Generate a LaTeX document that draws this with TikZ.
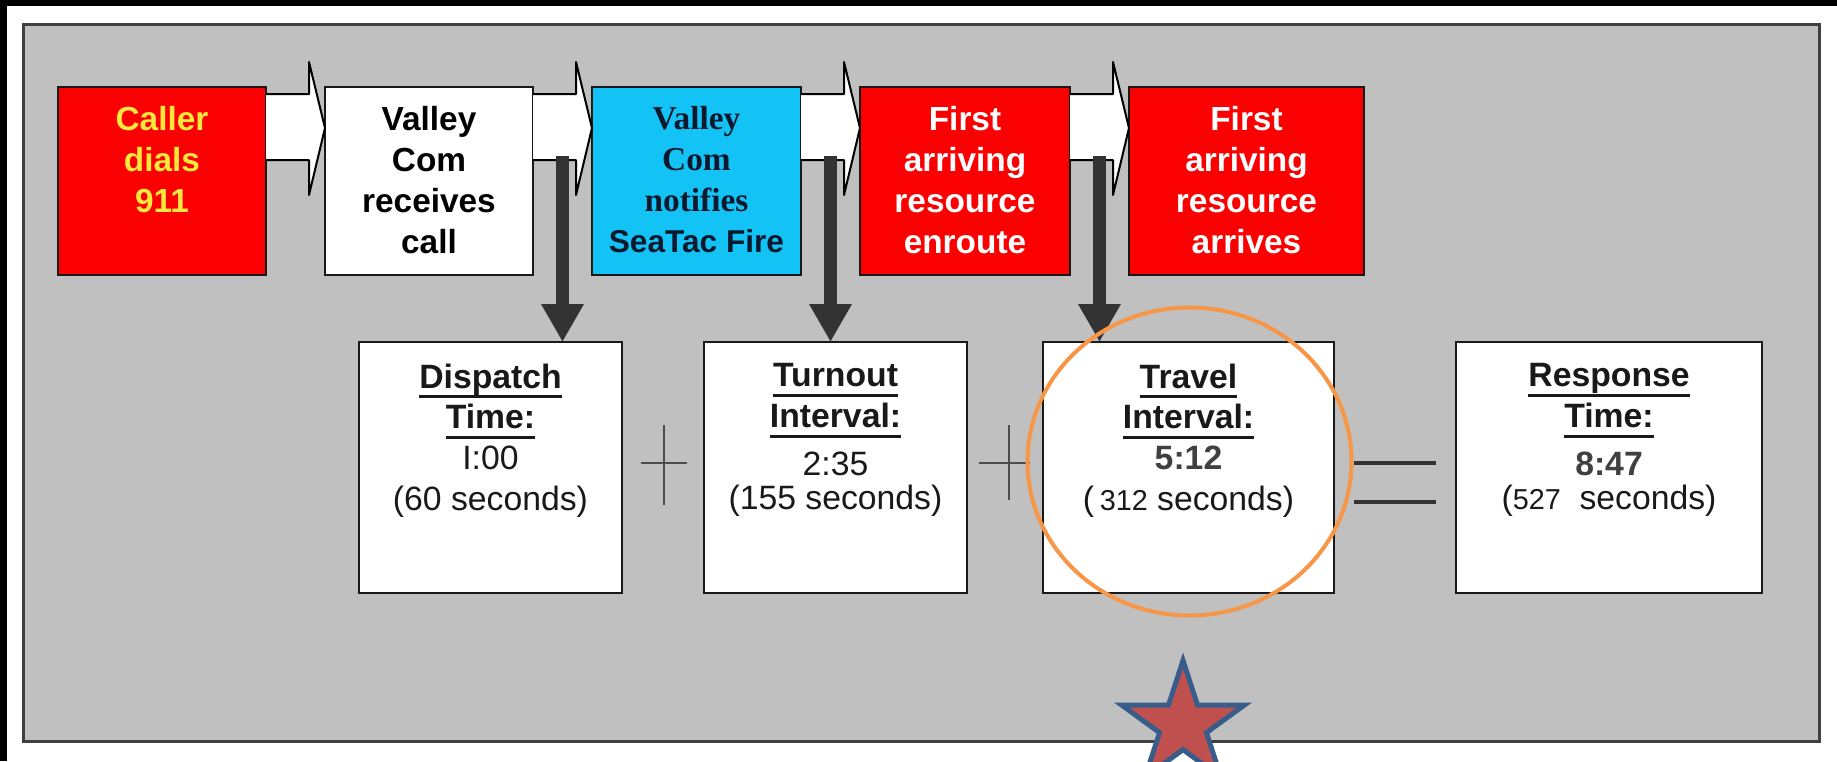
\documentclass[tikz,border=0pt]{standalone}
\usepackage{fontspec}
\setmainfont{Liberation Sans}
\newfontfamily\timesfont{Liberation Serif}
\usetikzlibrary{positioning, calc, arrows.meta, shapes.geometric}

\definecolor{panelgray}{RGB}{192,192,192}
\definecolor{alarmred}{RGB}{250,0,0}
\definecolor{notifyblue}{RGB}{20,195,245}
\definecolor{dialyellow}{RGB}{255,232,60}
\definecolor{navytext}{RGB}{10,25,45}
\definecolor{ringorange}{RGB}{247,150,70}
\definecolor{starred}{RGB}{192,80,77}
\definecolor{starblue}{RGB}{56,93,138}

% underlined bold heading
\newcommand{\hdr}[1]{\setbox0\hbox{\bfseries #1}\rlap{\rule[-2.8pt]{\wd0}{0.75pt}}\box0}

\begin{document}
\begin{tikzpicture}[
    x=0.1mm, y=-0.1mm,
    node distance=5.9mm,
    stagebox/.style={draw=black!90, line width=0.27mm, minimum width=20.8mm,
                     minimum height=18.8mm, outer sep=0pt, inner sep=0pt},
    stagetext/.style={anchor=north, yshift=-1.9mm, inner sep=0pt, align=center,
                      font=\bfseries\fontsize{9.5}{11.6}\selectfont},
    timebox/.style={draw=black!90, fill=white, line width=0.27mm,
                    minimum height=25.1mm, outer sep=0pt, inner sep=0pt},
    timetext/.style={anchor=north, yshift=-2.1mm, inner sep=0pt, align=center,
                     text=black!90, font=\fontsize{9.6}{11.6}\selectfont},
    flow/.style={draw=black, line width=0.2mm, fill=white, line join=round},
    drop/.style={draw=black!80, line width=1.3mm, -{Triangle[width=4mm,length=3.8mm]}},
    sign/.style={draw=black!70, line width=0.16mm},
    ring/.style={draw=ringorange, line width=0.4mm}
]
\useasboundingbox (0,0) rectangle (1837,761);
\fill[black] (0,0) rectangle (1837,6);
\fill[black] (0,0) rectangle (7,761);
\draw[draw=black!75, line width=0.3mm, fill=panelgray] (23,24) rectangle (1819,741);

% stages
\node[stagebox, fill=alarmred, anchor=north west,
      label={[stagetext, text=dialyellow]north:{Caller\\dials\\911}}] (caller) at (58,87) {};
\node[stagebox, fill=white, right=of caller,
      label={[stagetext]north:{Valley\\Com\\receives\\call}}] (call) {};
\node[stagebox, fill=notifyblue, right=of call, minimum width=20.9mm,
      label={[stagetext, text=navytext]north:{{\timesfont Valley}\\{\timesfont Com}\\{\timesfont notifies}\\{\fontsize{9}{11.6}\selectfont SeaTac Fire}}}] (notify) {};
\node[stagebox, fill=alarmred, right=of notify, minimum width=21mm,
      label={[stagetext, text=white]north:{First\\arriving\\resource\\enroute}}] (enroute) {};
\node[stagebox, fill=alarmred, right=of enroute, minimum width=23.5mm,
      label={[stagetext, text=white]north:{First\\arriving\\resource\\arrives}}] (arrive) {};

\foreach \a/\b in {caller/call, call/notify, notify/enroute, enroute/arrive}
  \filldraw[flow] ($(\a.north east)+(0,7)$) -- ($(\b.north west)+(-16,7)$)
    -- ($(\b.north west)+(-16,-25)$) -- ($(\b.north west)+(0,41)$)
    -- ($(\b.north west)+(-16,108)$) -- ($(\b.north west)+(-16,73)$)
    -- ($(\a.north east)+(0,73)$);

% intervals
\node[timebox, minimum width=26.3mm, anchor=north west,
      label={[timetext]north:{\hdr{Dispatch}\\\hdr{Time:}\\I:00\\(60 seconds)}}] (dispatch) at (359,342) {};
\node[timebox, minimum width=26.3mm, anchor=north west,
      label={[timetext]north:{\hdr{Turnout}\\\hdr{Interval:}\\[0.7mm]2:35\\[-0.7mm](155 seconds)}}] (turnout) at (704,342) {};
\node[timebox, minimum width=29.1mm, anchor=north west,
      label={[timetext]north:{\hdr{Travel}\\\hdr{Interval:}\\{\bfseries\color{black!75}5:12}\\(\,{\fontsize{8.2}{11.6}\selectfont 312} seconds)}}] (travel) at (1043,342) {};
\node[timebox, minimum width=30.6mm, anchor=north west,
      label={[timetext]north:{\hdr{Response}\\\hdr{Time:}\\[0.7mm]{\bfseries\color{black!75}8:47}\\[-0.7mm]({\fontsize{8.2}{11.6}\selectfont 527}\ \ seconds)}}] (response) at (1456,342) {};

\coordinate (tap1) at ($(call.north east)!0.5!(notify.north west)+(0,69)$);
\coordinate (tap2) at ($(notify.north east)!0.5!(enroute.north west)+(0,69)$);
\coordinate (tap3) at ($(enroute.north east)!0.5!(arrive.north west)+(0,69)$);
\draw[drop] (tap1) -- (tap1 |- dispatch.north);
\draw[drop] (tap2) -- (tap2 |- turnout.north);
\draw[drop] (tap3) -- (tap3 |- travel.north);

% signs
\coordinate (plus1) at ($(dispatch.north east)!0.5!(turnout.north west)+(1,121)$);
\coordinate (plus2) at ($(turnout.north east)!0.5!(travel.north west)+(4,121)$);
\coordinate (equal) at ($(travel.north east)!0.5!(response.north west)$);
\draw[sign] ($(plus1)+(0,-38)$) -- ($(plus1)+(0,42)$) ($(plus1)+(-23,0)$) -- ($(plus1)+(23,0)$);
\draw[sign] ($(plus2)+(0,-38)$) -- ($(plus2)+(0,37)$) ($(plus2)+(-30,0)$) -- ($(plus2)+(21,0)$);
\draw[draw=black!80, line width=0.32mm] ($(equal)+(-41,121)$) -- ($(equal)+(41,121)$)
    ($(equal)+(-41,160)$) -- ($(equal)+(41,160)$);

\draw[ring] ($(travel.center)+(1,-6)$) ellipse [x radius=16.2mm, y radius=15.4mm];
\node[star, star points=5, star point ratio=2.618, minimum size=12.9mm, inner sep=0pt,
      fill=starred, draw=starblue, line width=0.5mm] (pin) at (1183,725) {};
\end{tikzpicture}
\end{document}
